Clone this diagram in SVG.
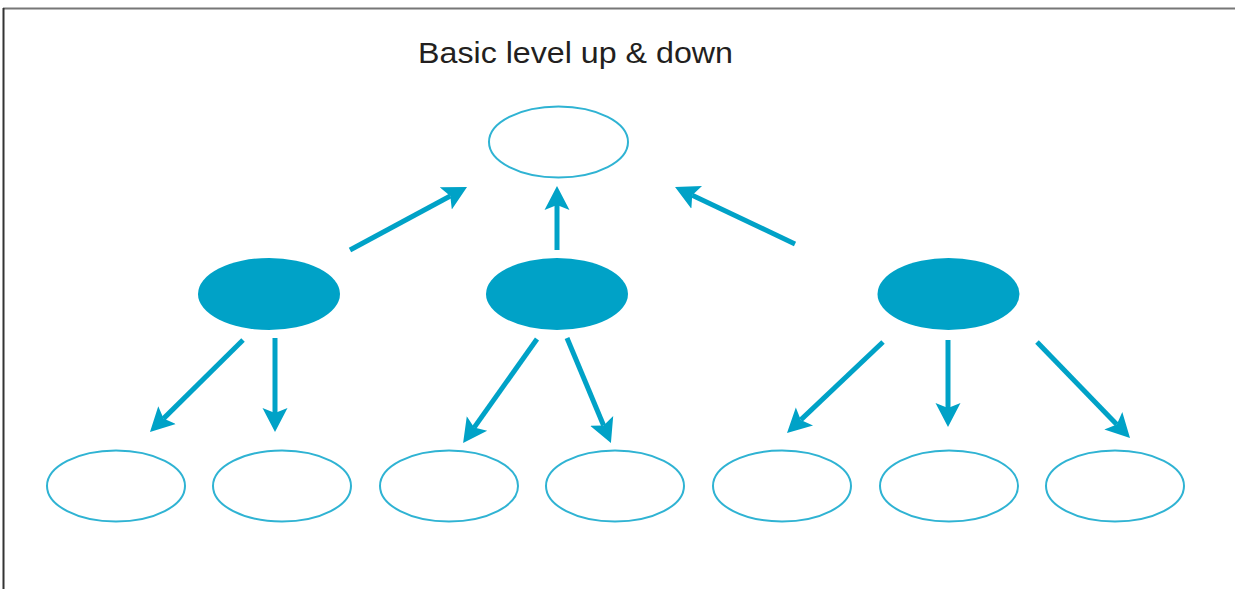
<svg xmlns="http://www.w3.org/2000/svg" width="1235" height="589" viewBox="0 0 1235 589">
  <style>
    .open { fill: #ffffff; stroke: #2fb3d3; stroke-width: 2; }
    .solid { fill: #00a2c7; stroke: none; }
    .conn line { stroke: #00a2c7; stroke-width: 5; stroke-linecap: butt; }
    .title { font-family: "Liberation Sans", Arial, sans-serif; font-size: 29px; fill: #231f20; }
  </style>
  <defs>
    <marker id="head" markerUnits="userSpaceOnUse" markerWidth="28" markerHeight="28" viewBox="0 -14 28 28" refX="5" refY="0" orient="auto">
      <path d="M0,-12.5 L24,0 L0,12.5 L5,0 Z" fill="#00a2c7"/>
    </marker>
  </defs>
  <rect width="1235" height="589" fill="#ffffff"/>
  <!-- frame -->
  <line x1="3" y1="8.5" x2="1235" y2="8.5" stroke="#777777" stroke-width="2"/>
  <line x1="3.5" y1="8" x2="3.5" y2="589" stroke="#333333" stroke-width="2"/>

  <text class="title" x="418" y="63" textLength="315" lengthAdjust="spacingAndGlyphs">Basic level up &amp; down</text>

  <g id="top">
    <ellipse class="open" cx="558.5" cy="142" rx="69.5" ry="35.5"/>
  </g>

  <g id="mid-left"><ellipse class="solid" cx="269" cy="294" rx="71" ry="36"/></g>
  <g id="mid-center"><ellipse class="solid" cx="557" cy="294" rx="71" ry="36"/></g>
  <g id="mid-right"><ellipse class="solid" cx="948.5" cy="294" rx="71" ry="36"/></g>

  <g id="leaf-1"><ellipse class="open" cx="116" cy="486" rx="69" ry="35.5"/></g>
  <g id="leaf-2"><ellipse class="open" cx="282" cy="486" rx="69" ry="35.5"/></g>
  <g id="leaf-3"><ellipse class="open" cx="449" cy="486" rx="69" ry="35.5"/></g>
  <g id="leaf-4"><ellipse class="open" cx="615" cy="486" rx="69" ry="35.5"/></g>
  <g id="leaf-5"><ellipse class="open" cx="782" cy="486" rx="69" ry="35.5"/></g>
  <g id="leaf-6"><ellipse class="open" cx="949" cy="486" rx="69" ry="35.5"/></g>
  <g id="leaf-7"><ellipse class="open" cx="1115" cy="486" rx="69" ry="35.5"/></g>

  <g id="connectors" class="conn">
    <!-- upward -->
    <line x1="350" y1="250" x2="450.3" y2="196" marker-end="url(#head)"/>
    <line x1="557" y1="250" x2="557" y2="205" marker-end="url(#head)"/>
    <line x1="795" y1="244" x2="692.2" y2="195.2" marker-end="url(#head)"/>
    <!-- downward -->
    <line x1="243" y1="340" x2="163.5" y2="418.6" marker-end="url(#head)"/>
    <line x1="275" y1="338" x2="275" y2="413" marker-end="url(#head)"/>
    <line x1="537" y1="339" x2="474.1" y2="427.6" marker-end="url(#head)"/>
    <line x1="567" y1="338" x2="603.6" y2="425.5" marker-end="url(#head)"/>
    <line x1="883" y1="342" x2="800.8" y2="419.9" marker-end="url(#head)"/>
    <line x1="948" y1="340" x2="948" y2="408" marker-end="url(#head)"/>
    <line x1="1037" y1="342" x2="1116.8" y2="424.4" marker-end="url(#head)"/>
  </g>
</svg>
